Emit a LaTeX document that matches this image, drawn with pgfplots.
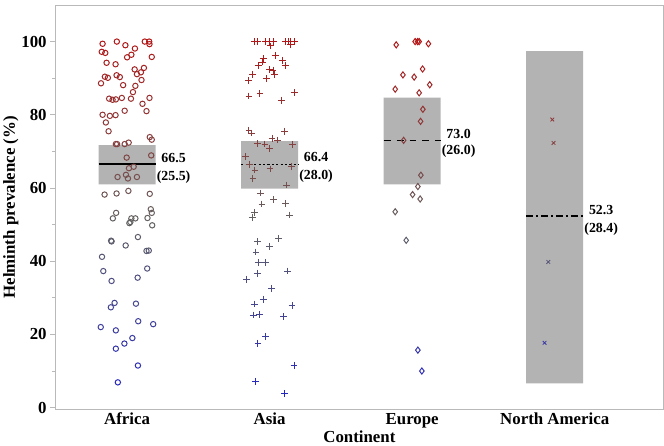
\documentclass[border=0pt]{standalone}
\usepackage{fontspec}
\setmainfont{Liberation Serif}
\usepackage{pgfplots}
\pgfplotsset{compat=1.18}
\usepackage{pgfplotstable}
\definecolor{boxgray}{RGB}{179,179,179}
\definecolor{axgray}{RGB}{185,185,185}

\pgfplotstableread{
dx v
-0.172 99.4
-0.072 100
-0.012 99.0
0.124 100
0.155 100
0.157 99.3
0.055 98.1
-0.178 97.2
-0.153 96.9
0.030 96.4
0.000 95.7
0.173 95.8
-0.144 94.2
-0.081 93.8
0.053 92.4
0.118 92.8
0.069 91.1
0.097 91.6
-0.156 90.4
-0.135 90.1
-0.074 90.8
-0.051 90.3
-0.183 88.6
0.101 89.5
-0.028 88.1
0.058 87.9
0.041 86.2
-0.126 84.4
-0.102 84.1
-0.079 84.2
-0.037 84.6
0.027 84.4
0.157 84.6
0.108 83.0
0.136 81.0
-0.017 81.1
-0.172 80.0
-0.121 79.7
-0.081 79.9
-0.149 77.9
-0.130 75.5
0.159 73.9
0.173 73.2
-0.079 72.0
-0.070 72.0
-0.017 72.0
0.011 72.4
-0.003 68.3
0.169 68.9
0.046 65.8
0.013 65.4
-0.067 63.0
-0.008 63.6
0.006 62.6
0.069 63.0
-0.158 58.2
-0.074 58.5
0.009 59.2
0.159 58.4
-0.077 53.2
-0.100 51.7
0.166 54.2
0.173 53.2
0.143 51.8
0.058 51.7
0.030 51.7
0.023 50.7
0.016 50.4
0.176 49.8
-0.112 45.6
-0.109 45.4
0.076 46.6
-0.010 44.3
-0.176 41.2
0.136 42.8
0.152 42.9
-0.167 37.3
0.141 38.0
-0.109 34.6
0.074 35.5
-0.088 28.6
-0.114 27.4
0.062 28.4
0.078 23.6
0.183 22.8
-0.185 22.0
-0.079 21.1
0.037 19.0
-0.019 17.5
-0.079 16.1
0.076 11.5
-0.065 6.9
}\africa

\pgfplotstableread{
dx v
-0.108 100
-0.087 100
-0.029 100
0.001 100
0.026 100
0.110 100
0.129 100
0.148 100
0.176 100
0.008 98.8
0.145 99.1
0.040 96.1
-0.045 95.4
0.089 94.9
-0.050 94.4
-0.080 93.4
0.113 93.4
-0.003 92.4
0.024 92.2
-0.122 91.1
0.036 90.9
-0.022 90.0
-0.148 89.3
-0.145 85.1
-0.068 85.9
0.173 86.1
0.082 84.0
-0.145 75.8
-0.124 75.0
0.106 75.5
0.017 73.6
0.054 73.1
-0.087 72.1
-0.033 72.0
0.001 70.8
0.162 71.9
-0.171 68.5
-0.143 66.4
-0.103 64.9
0.003 65.2
0.152 65.9
-0.117 62.5
0.120 60.8
-0.066 58.6
0.029 56.8
-0.054 55.6
0.113 55.8
-0.108 53.3
-0.122 51.9
0.141 52.6
-0.085 45.3
0.064 46.2
0.001 44.1
-0.096 42.5
-0.080 39.6
-0.031 39.7
-0.087 36.7
0.127 37.3
-0.164 35.1
0.015 32.5
-0.045 29.6
-0.108 28.3
0.157 27.9
-0.115 25.3
-0.073 25.5
0.099 24.9
-0.029 19.5
-0.082 17.6
0.171 11.5
-0.101 7.2
0.106 3.8
}\asia

\pgfplotstableread{
dx v
-0.112 99.1
0.021 100
0.038 100
0.049 100
0.114 99.4
0.073 92.5
-0.065 90.9
0.014 90.3
0.123 88.2
-0.119 87.0
0.049 86.0
0.075 81.5
0.059 78.2
-0.060 73.0
0.061 63.5
0.040 60.4
0.003 58.2
0.056 57.0
-0.119 53.5
-0.042 45.7
0.040 15.7
0.068 10.0
}\europe

\pgfplotstableread{
dx v
-0.017 78.7
-0.008 72.3
-0.045 39.8
-0.071 17.7
}\namerica

\begin{document}
\begin{tikzpicture}
\begin{axis}[
  scale only axis,
  width=612bp, height=407bp,
  xmin=-0.505, xmax=3.764,
  ymin=-0.55, ymax=110,
  xtick={0,1,2,3},
  xticklabels={Africa,Asia,Europe,North America},
  ytick={0,20,40,60,80,100},
  minor ytick={10,30,50,70,90},
  ytick pos=left,
  tick align=outside,
  major tick length=5bp,
  minor tick length=3bp,
  x tick style={draw=none},
  y tick style={axgray, line width=0.8bp},
  axis line style={axgray, line width=0.8bp},
  /pgf/number format/assume math mode=true,
  ticklabel style={font=\fontsize{17}{17}\selectfont\bfseries},
  xticklabel style={yshift=5bp},
  xlabel={Continent},
  ylabel={Helminth prevalence (\%)},
  label style={font=\fontsize{17}{17}\selectfont\bfseries},
  xlabel style={yshift=4bp},
  ylabel style={yshift=-4bp},
  colormap={bgr}{rgb255=(40,40,255) rgb255=(122,122,122) rgb255=(222,28,28)},
  point meta min=0, point meta max=100,
  clip=false,
]
% confidence boxes
\addplot[fill=boxgray, draw=none] coordinates {(-0.2,61.0) (0.2,61.0) (0.2,71.7) (-0.2,71.7) (-0.2,61.0)};
\addplot[fill=boxgray, draw=none] coordinates {(0.8,59.8) (1.2,59.8) (1.2,72.8) (0.8,72.8) (0.8,59.8)};
\addplot[fill=boxgray, draw=none] coordinates {(1.8,61.0) (2.2,61.0) (2.2,84.7) (1.8,84.7) (1.8,61.0)};
\addplot[fill=boxgray, draw=none] coordinates {(2.8,6.6) (3.2,6.6) (3.2,97.4) (2.8,97.4) (2.8,6.6)};
% mean lines
\addplot[black, line width=1.5bp] coordinates {(-0.2,66.5) (0.2,66.5)};
\addplot[black, line width=1.5bp, dash pattern=on 2.2bp off 2.2bp] coordinates {(0.8,66.4) (1.2,66.4)};
\addplot[black, line width=1.5bp, dash pattern=on 7bp off 6bp] coordinates {(1.8,73.0) (2.2,73.0)};
\addplot[black, line width=1.5bp, dash pattern=on 7bp off 3bp on 2bp off 3bp] coordinates {(2.8,52.3) (3.2,52.3)};
% points
\addplot[only marks, scatter, mark=o, mark size=2.7bp, mark options={line width=1bp}, point meta=\thisrow{v}]
  table[x expr=\thisrow{dx}, y=v] {\africa};
\addplot[only marks, scatter, mark=+, mark size=3.4bp, mark options={line width=1bp}, point meta=\thisrow{v}]
  table[x expr=\thisrow{dx}+1, y=v] {\asia};
\addplot[only marks, scatter, mark=diamond, mark size=3.1bp, mark options={line width=1bp}, point meta=\thisrow{v}]
  table[x expr=\thisrow{dx}+2, y=v] {\europe};
\addplot[only marks, scatter, mark=x, mark size=2.6bp, mark options={line width=0.8bp}, point meta=\thisrow{v}]
  table[x expr=\thisrow{dx}+3, y=v] {\namerica};
% labels
\node[anchor=west, align=center, font=\fontsize{14}{18}\selectfont\bfseries, yshift=-4bp, inner sep=1bp] at (axis cs:0.2,66.5) {66.5\\(25.5)};
\node[anchor=west, align=center, font=\fontsize{14}{18}\selectfont\bfseries, yshift=-3bp, inner sep=1bp] at (axis cs:1.2,66.4) {66.4\\(28.0)};
\node[anchor=west, align=center, font=\fontsize{14}{17}\selectfont\bfseries, yshift=-3bp, inner sep=1bp] at (axis cs:2.2,73.0) {73.0\\(26.0)};
\node[anchor=west, align=center, font=\fontsize{14}{18}\selectfont\bfseries, yshift=-4bp, inner sep=1bp] at (axis cs:3.2,52.3) {52.3\\(28.4)};
\end{axis}
\end{tikzpicture}
\end{document}
